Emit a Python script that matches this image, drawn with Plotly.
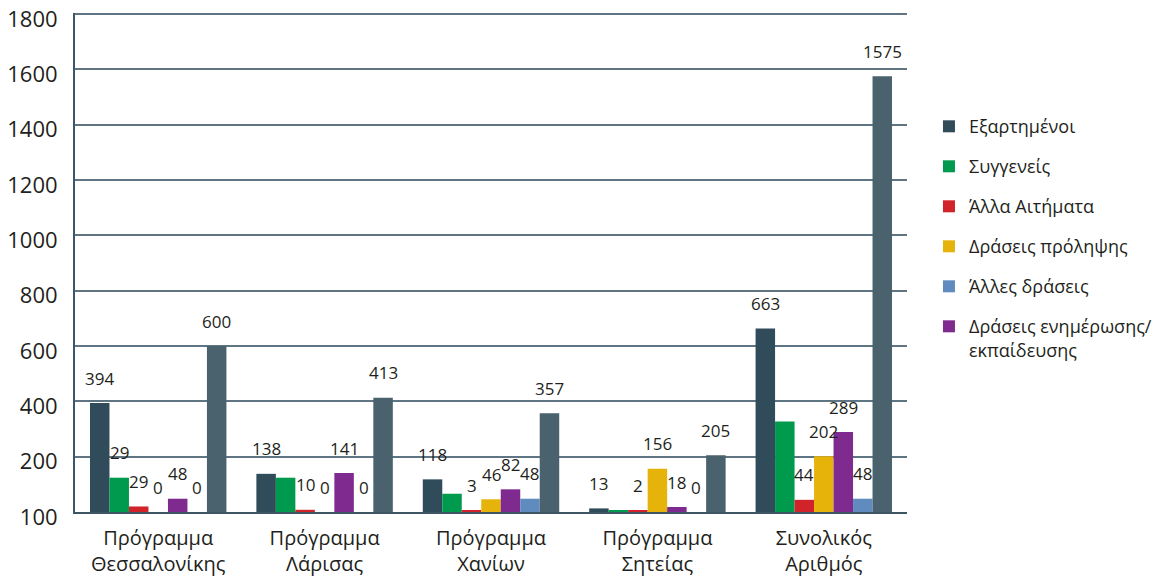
import plotly.graph_objects as go

categories = ["Πρόγραμμα<br>Θεσσαλονίκης", "Πρόγραμμα<br>Λάρισας", "Πρόγραμμα<br>Χανίων",
              "Πρόγραμμα<br>Σητείας", "Συνολικός<br>Αριθμός"]

# bar heights as drawn in the picture
exartimenoi = [394, 138, 118, 13, 663]
syggeneis = [124, 124, 66, 7, 327]
alla_aitimata = [20, 8, 7, 7, 44]
draseis_prolipsis = [0, 0, 46, 156, 202]
draseis_enimerosis = [48, 141, 82, 18, 289]
alles_draseis = [0, 0, 48, 0, 48]
synolo = [600, 413, 357, 205, 1575]

# data labels as printed in the picture
lbl_exartimenoi = ["394", "138", "118", "13", "663"]
lbl_syggeneis = ["29", "", "", "", ""]
lbl_alla_aitimata = ["29", "10", "3", "2", "44"]
lbl_draseis_prolipsis = ["0", "0", "46", "156", "202"]
lbl_draseis_enimerosis = ["48", "141", "82", "18", "289"]
lbl_alles_draseis = ["0", "0", "48", "0", "48"]
lbl_synolo = ["600", "413", "357", "205", "1575"]

y_tickvals = [0, 200, 400, 600, 800, 1000, 1200, 1400, 1600, 1800]
y_ticktext = ["100", "200", "400", "600", "800", "1000", "1200", "1400", "1600", "1800"]

series = [
    ("Εξαρτημένοι", exartimenoi, lbl_exartimenoi, "#304B59", 1, True),
    ("Συγγενείς", syggeneis, lbl_syggeneis, "#009A4E", 2, True),
    ("Άλλα Αιτήματα", alla_aitimata, lbl_alla_aitimata, "#D1232A", 3, True),
    ("Δράσεις πρόληψης", draseis_prolipsis, lbl_draseis_prolipsis, "#E6B30A", 4, True),
    ("Δράσεις ενημέρωσης/<br>εκπαίδευσης", draseis_enimerosis, lbl_draseis_enimerosis, "#7F2A8F", 6, True),
    ("Άλλες δράσεις", alles_draseis, lbl_alles_draseis, "#5F8BBE", 5, True),
    ("Σύνολο", synolo, lbl_synolo, "#4A616E", 7, False),
]

FONT = "Open Sans"
bargap = 0.18
n = len(series)
w = (1 - bargap) / n

fig = go.Figure()
annotations = []
for i, (name, vals, lbls, color, rank, show) in enumerate(series):
    fig.add_trace(go.Bar(
        x=categories, y=vals, name=name, marker=dict(color=color, line=dict(width=0)),
        legendrank=rank, legendgroup=name, showlegend=show,
    ))
    for j, (v, t) in enumerate(zip(vals, lbls)):
        if t == "":
            continue
        annotations.append(dict(
            x=j + (i - (n - 1) / 2) * w, y=v, xref="x", yref="y", text=t,
            showarrow=False, yshift=25, yanchor="middle", xanchor="center",
            font=dict(family=FONT, size=17, color="#231F20", weight=500),
        ))

fig.update_layout(
    width=1169, height=577,
    margin=dict(l=67, r=270, t=5, b=73, autoexpand=False),
    paper_bgcolor="white", plot_bgcolor="white",
    barmode="group", bargap=bargap, bargroupgap=0,
    font=dict(family=FONT, color="#231F20"),
    annotations=annotations,
    legend=dict(
        x=1.0264, xanchor="left", y=0.8094, yanchor="top",
        font=dict(family=FONT, size=18, color="#231F20"),
        traceorder="grouped", tracegroupgap=13.6, valign="top",
        bgcolor="rgba(0,0,0,0)",
    ),
)
fig.update_yaxes(
    range=[0, 1804], tickvals=y_tickvals, ticktext=y_ticktext, automargin=False,
    ticklabeloverflow="allow", ticklabelshift=5,
    showgrid=True, gridcolor="#5f7583", gridwidth=1.5,
    showline=True, linecolor="#3E5563", linewidth=2,
    zeroline=False, ticks="", ticklabelstandoff=11,
    tickfont=dict(family=FONT, size=22, color="#231F20"),
)
fig.update_xaxes(
    showline=True, linecolor="#3E5563", linewidth=2, showgrid=False, automargin=False,
    ticklabeloverflow="allow",
    ticks="", ticklabelstandoff=7, tickfont=dict(family=FONT, size=20, color="#231F20"),
)

fig.write_html("out.html")
